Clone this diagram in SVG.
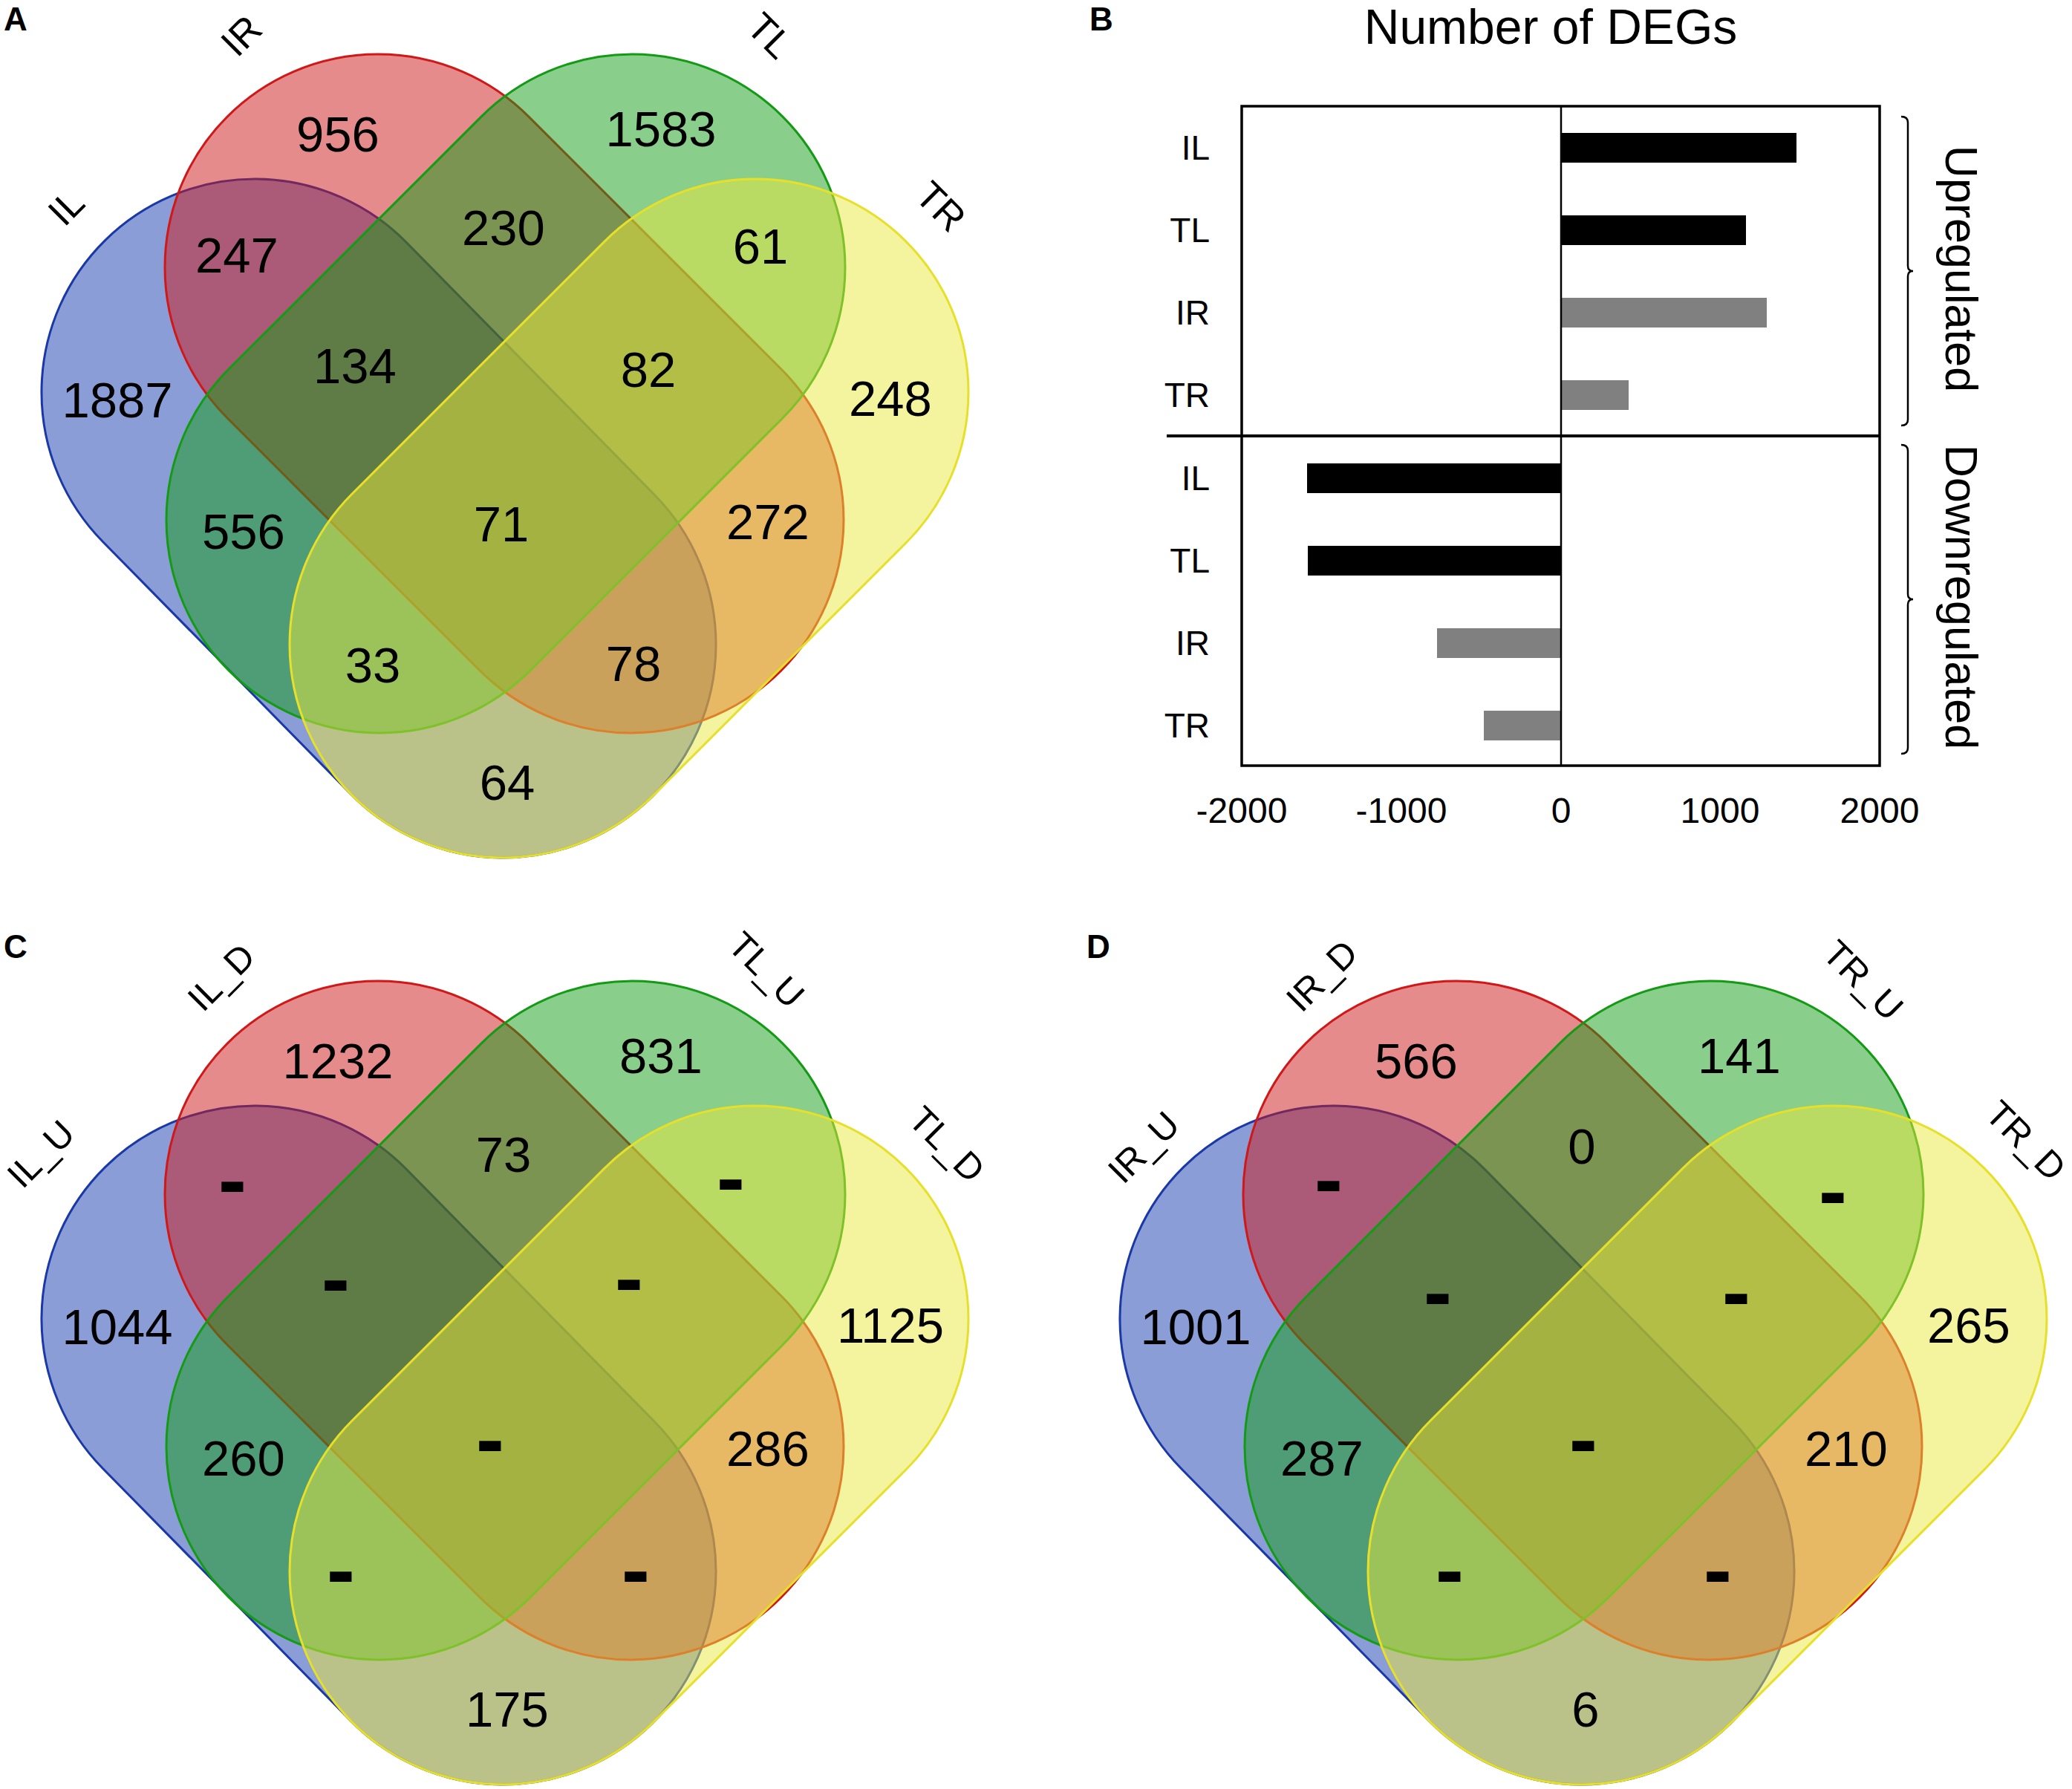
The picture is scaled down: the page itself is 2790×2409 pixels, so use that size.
<svg xmlns="http://www.w3.org/2000/svg" width="2790" height="2409" viewBox="0 0 2790 2409">
<style>
text{font-family:"Liberation Sans",Arial,Helvetica,sans-serif;fill:#000}
.num{font-size:67px;text-anchor:middle}
.lab{font-size:52px;text-anchor:middle}
.lab2{font-size:49px;text-anchor:middle}
.dash{font-size:115px;font-weight:bold;text-anchor:middle}
.pl{font-size:44px;font-weight:bold}
.blue{fill:#153BAD;fill-opacity:.5;stroke:#1A38A8;stroke-width:3}
.red{fill:#CB1717;fill-opacity:.5;stroke:#D01818;stroke-width:3}
.green{fill:#139D17;fill-opacity:.5;stroke:#149A14;stroke-width:3}
.yellow{fill:#E9E73D;fill-opacity:.5;stroke:#E6E02A;stroke-width:3}
.ax{font-size:48px;text-anchor:middle}
.row{font-size:46px;text-anchor:end}
.side{font-size:61px;text-anchor:middle}
.bk{fill:#000}
.gr{fill:#808080}
.ln{stroke:#000;fill:none}
</style>

<g id="panelA">
<text class="pl" x="5" y="41">A</text>
<g id="A-IL"><rect class="blue" x="-525.3" y="-287" width="1050.6" height="574" rx="287" transform="translate(510,698) rotate(45.5)"/></g>
<g id="A-IR"><rect class="red" x="-527.4" y="-287" width="1054.8" height="574" rx="287" transform="translate(679,530) rotate(45)"/></g>
<g id="A-TL"><rect class="green" x="-527.4" y="-287" width="1054.8" height="574" rx="287" transform="translate(681,530) rotate(-45)"/></g>
<g id="A-TR"><rect class="yellow" x="-527.4" y="-287" width="1054.8" height="574" rx="287" transform="translate(847,698) rotate(-45)"/></g>
<g id="A-labels">
<text class="lab" transform="translate(89,279) rotate(-45)" y="18">IL</text>
<text class="lab" transform="translate(325,48) rotate(-45)" y="18">IR</text>
<text class="lab" transform="translate(1037,48) rotate(45)" y="18">TL</text>
<text class="lab" transform="translate(1267,278) rotate(45)" y="18">TR</text>
</g>
<g id="A-counts">
<text class="num" x="455" y="204">956</text>
<text class="num" x="890" y="197">1583</text>
<text class="num" x="319" y="367">247</text>
<text class="num" x="678" y="330">230</text>
<text class="num" x="1024" y="355">61</text>
<text class="num" x="478" y="516">134</text>
<text class="num" x="873" y="521">82</text>
<text class="num" x="158" y="562">1887</text>
<text class="num" x="1199" y="560">248</text>
<text class="num" x="675" y="729">71</text>
<text class="num" x="328" y="739">556</text>
<text class="num" x="1034" y="726">272</text>
<text class="num" x="502" y="919">33</text>
<text class="num" x="853" y="917">78</text>
<text class="num" x="683" y="1077">64</text>
</g>
</g>

<g id="panelB">
<text class="pl" x="1467" y="41">B</text>
<text x="2088" y="59" style="font-size:66px;text-anchor:middle">Number of DEGs</text>
<g id="B-bars">
<rect class="bk" x="2102" y="179" width="317" height="40"/>
<rect class="bk" x="2102" y="290" width="249" height="40"/>
<rect class="gr" x="2102" y="401" width="277" height="40"/>
<rect class="gr" x="2102" y="512" width="91" height="40"/>
<rect class="bk" x="1760" y="624" width="342" height="40"/>
<rect class="bk" x="1761" y="735" width="341" height="40"/>
<rect class="gr" x="1935" y="846" width="167" height="40"/>
<rect class="gr" x="1998" y="957" width="104" height="40"/>
</g>
<g id="B-frame">
<rect class="ln" x="1672" y="143" width="859" height="888" stroke-width="3.5"/>
<line class="ln" x1="1571" y1="587" x2="2531" y2="587" stroke-width="4"/>
<line class="ln" x1="2102" y1="143" x2="2102" y2="1031" stroke-width="2.5"/>
</g>
<g id="B-rows">
<text class="row" x="1629" y="215">IL</text>
<text class="row" x="1629" y="326">TL</text>
<text class="row" x="1629" y="437">IR</text>
<text class="row" x="1629" y="548">TR</text>
<text class="row" x="1629" y="660">IL</text>
<text class="row" x="1629" y="771">TL</text>
<text class="row" x="1629" y="882">IR</text>
<text class="row" x="1629" y="993">TR</text>
</g>
<g id="B-axis">
<text class="ax" x="1672" y="1108">-2000</text>
<text class="ax" x="1887" y="1108">-1000</text>
<text class="ax" x="2102" y="1108">0</text>
<text class="ax" x="2316" y="1108">1000</text>
<text class="ax" x="2531" y="1108">2000</text>
</g>
<g id="B-braces">
<path class="ln" stroke-width="2.5" d="M2560 157 Q2569 157 2569 165 V358 Q2569 365 2576 365 Q2569 365 2569 372 V565 Q2569 573 2560 573"/>
<path class="ln" stroke-width="2.5" d="M2560 599 Q2569 599 2569 607 V800 Q2569 807 2576 807 Q2569 807 2569 814 V1007 Q2569 1015 2560 1015"/>
<text class="side" transform="translate(2620,362) rotate(90)">Upregulated</text>
<text class="side" transform="translate(2620,804) rotate(90)">Downregulated</text>
</g>
</g>

<g id="panelC">
<text class="pl" x="5" y="1290">C</text>
<g transform="translate(0,1248)">
<g id="C-IL_U"><rect class="blue" x="-525.3" y="-287" width="1050.6" height="574" rx="287" transform="translate(510,698) rotate(45.5)"/></g>
<g id="C-IL_D"><rect class="red" x="-527.4" y="-287" width="1054.8" height="574" rx="287" transform="translate(679,530) rotate(45)"/></g>
<g id="C-TL_U"><rect class="green" x="-527.4" y="-287" width="1054.8" height="574" rx="287" transform="translate(681,530) rotate(-45)"/></g>
<g id="C-TL_D"><rect class="yellow" x="-527.4" y="-287" width="1054.8" height="574" rx="287" transform="translate(847,698) rotate(-45)"/></g>
<g id="C-labels">
<text class="lab2" transform="translate(57,308) rotate(-45)" y="14">IL_U</text>
<text class="lab2" transform="translate(300,70) rotate(-45)" y="14">IL_D</text>
<text class="lab2" transform="translate(1030,60) rotate(45)" y="14">TL_U</text>
<text class="lab2" transform="translate(1273,295) rotate(45)" y="14">TL_D</text>
</g>
<g id="C-counts">
<text class="num" x="455" y="204">1232</text>
<text class="num" x="890" y="197">831</text>
<text class="num" x="678" y="330">73</text>
<text class="num" x="158" y="562">1044</text>
<text class="num" x="1199" y="560">1125</text>
<text class="num" x="328" y="739">260</text>
<text class="num" x="1034" y="726">286</text>
<text class="num" x="683" y="1077">175</text>
<text class="dash" x="313" y="380">-</text>
<text class="dash" x="984" y="377">-</text>
<text class="dash" x="452" y="513">-</text>
<text class="dash" x="847" y="512">-</text>
<text class="dash" x="660" y="729">-</text>
<text class="dash" x="459" y="905">-</text>
<text class="dash" x="856" y="905">-</text>
</g>
</g>
</g>

<g id="panelD">
<text class="pl" x="1463" y="1290">D</text>
<g transform="translate(1452,1248)">
<g id="D-IR_U"><rect class="blue" x="-525.3" y="-287" width="1050.6" height="574" rx="287" transform="translate(510,698) rotate(45.5)"/></g>
<g id="D-IR_D"><rect class="red" x="-527.4" y="-287" width="1054.8" height="574" rx="287" transform="translate(679,530) rotate(45)"/></g>
<g id="D-TR_U"><rect class="green" x="-527.4" y="-287" width="1054.8" height="574" rx="287" transform="translate(681,530) rotate(-45)"/></g>
<g id="D-TR_D"><rect class="yellow" x="-527.4" y="-287" width="1054.8" height="574" rx="287" transform="translate(847,698) rotate(-45)"/></g>
<g id="D-labels">
<text class="lab2" transform="translate(90,299) rotate(-45)" y="14">IR_U</text>
<text class="lab2" transform="translate(330,68) rotate(-45)" y="14">IR_D</text>
<text class="lab2" transform="translate(1055,74) rotate(45)" y="14">TR_U</text>
<text class="lab2" transform="translate(1274,290) rotate(45)" y="14">TR_D</text>
</g>
<g id="D-counts">
<text class="num" x="455" y="204">566</text>
<text class="num" x="890" y="197">141</text>
<text class="num" x="678" y="319">0</text>
<text class="num" x="158" y="562">1001</text>
<text class="num" x="1199" y="560">265</text>
<text class="num" x="328" y="739">287</text>
<text class="num" x="1034" y="726">210</text>
<text class="num" x="683" y="1077">6</text>
<text class="dash" x="337" y="379">-</text>
<text class="dash" x="1016" y="395">-</text>
<text class="dash" x="484" y="531">-</text>
<text class="dash" x="886" y="531">-</text>
<text class="dash" x="680" y="729">-</text>
<text class="dash" x="500" y="905">-</text>
<text class="dash" x="861" y="905">-</text>
</g>
</g>
</g>
</svg>
